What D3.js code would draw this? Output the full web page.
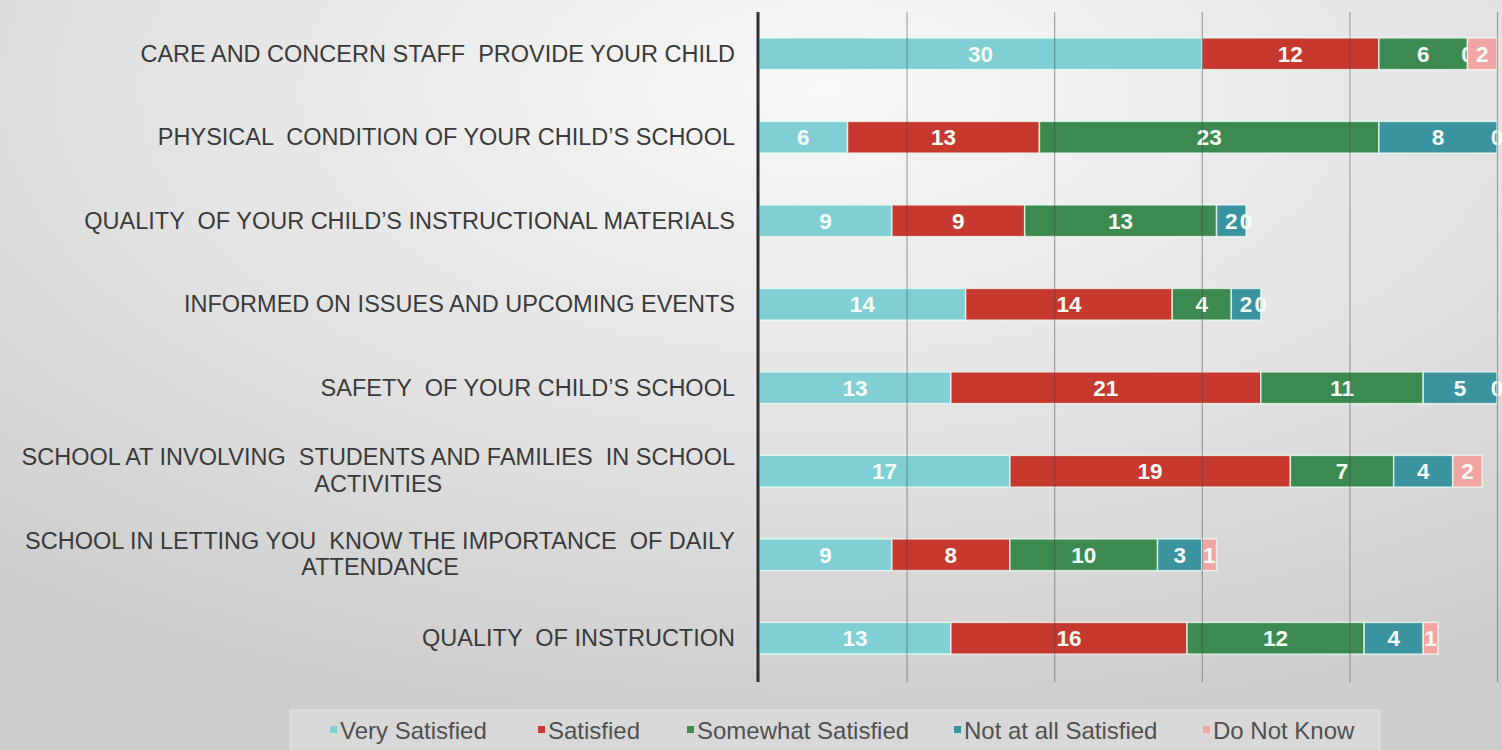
<!DOCTYPE html>
<html>
<head>
<meta charset="utf-8">
<script src="https://cdn.jsdelivr.net/npm/d3@7"></script>
<style>
  html, body { margin: 0; padding: 0; }
  svg { display: block; }
  text { font-family: "Liberation Sans", Arial, sans-serif; white-space: pre; }
</style>
</head>
<body>
<svg id="chart" width="1502" height="750"></svg>
<script>
// Survey items (top to bottom); multi-line labels split with "\n"
const categories = [
  "CARE AND CONCERN STAFF  PROVIDE YOUR CHILD",
  "PHYSICAL  CONDITION OF YOUR CHILD\u2019S SCHOOL",
  "QUALITY  OF YOUR CHILD\u2019S INSTRUCTIONAL MATERIALS",
  "INFORMED ON ISSUES AND UPCOMING EVENTS",
  "SAFETY  OF YOUR CHILD\u2019S SCHOOL",
  "SCHOOL AT INVOLVING  STUDENTS AND FAMILIES  IN SCHOOL\nACTIVITIES",
  "SCHOOL IN LETTING YOU  KNOW THE IMPORTANCE  OF DAILY\nATTENDANCE",
  "QUALITY  OF INSTRUCTION"
];

const seriesNames = ["Very Satisfied", "Satisfied", "Somewhat Satisfied", "Not at all Satisfied", "Do Not Know"];

// Response counts per item, one array per series
const verySatisfied      = [30, 6, 9, 14, 13, 17, 9, 13];
const satisfied          = [12, 13, 9, 14, 21, 19, 8, 16];
const somewhatSatisfied  = [6, 23, 13, 4, 11, 7, 10, 12];
const notAtAllSatisfied  = [0, 8, 2, 2, 5, 4, 3, 4];
const doNotKnow          = [2, 0, 0, 0, 0, 2, 1, 1];

const xTicks = [10, 20, 30, 40, 50];

const seriesColors = ["#7fcfd5", "#c7382e", "#3d8a50", "#3c93a0", "#f1a4a2"];

const svg = d3.select("#chart");
const W = 1502, H = 750;

// Soft radial background
const defs = svg.append("defs");
const grad = defs.append("radialGradient")
  .attr("id", "bg").attr("cx", "0.55").attr("cy", "0.12").attr("r", "0.85")
  .attr("gradientUnits", "objectBoundingBox");
grad.append("stop").attr("offset", "0").attr("stop-color", "#f8f8f8");
grad.append("stop").attr("offset", "0.55").attr("stop-color", "#e2e2e2");
grad.append("stop").attr("offset", "1").attr("stop-color", "#cdcdcd");
svg.append("rect").attr("width", W).attr("height", H).attr("fill", "url(#bg)");

// Scales
const x = d3.scaleLinear().domain([0, 50]).range([759, 1497]);
const y = d3.scaleBand().domain(categories).range([12, 680])
  .paddingInner(0.62).paddingOuter(0.31);

// Stack the series
const rows = categories.map((c, i) => ({
  cat: c,
  "Very Satisfied": verySatisfied[i],
  "Satisfied": satisfied[i],
  "Somewhat Satisfied": somewhatSatisfied[i],
  "Not at all Satisfied": notAtAllSatisfied[i],
  "Do Not Know": doNotKnow[i]
}));
const stacked = d3.stack().keys(seriesNames)(rows);

const color = d3.scaleOrdinal().domain(seriesNames).range(seriesColors);

// Bars
const layers = svg.append("g").selectAll("g")
  .data(stacked).join("g")
  .attr("fill", d => color(d.key));

layers.selectAll("rect")
  .data(d => d.map(p => ({ key: d.key, p })))
  .join("rect")
  .attr("x", d => x(d.p[0]))
  .attr("y", d => y(d.p.data.cat))
  .attr("width", d => x(d.p[1]) - x(d.p[0]))
  .attr("height", y.bandwidth())
  .attr("stroke", "rgba(240,255,245,0.75)")
  .attr("stroke-width", 1.5);

// Vertical gridlines, drawn over the bars
const grid = svg.append("g");
const gridAxis = d3.axisBottom(x).tickValues(xTicks).tickSize(670).tickFormat("");
grid.attr("transform", "translate(0,12)").call(gridAxis);
grid.select(".domain").remove();
grid.selectAll(".tick line").attr("stroke", "#4a4a4a").attr("stroke-opacity", 0.45).attr("stroke-width", 1.2);

// Category axis line
const yAxis = d3.axisLeft(y).tickSize(0).tickFormat("");
const yAxisG = svg.append("g").attr("transform", `translate(${x(0) - 1},0)`).call(yAxis);
yAxisG.select(".domain").attr("d", "M0,12V682").attr("stroke", "#303030").attr("stroke-width", 3);

// Value labels
layers.selectAll("text.val")
  .data(d => d.map(p => ({ key: d.key, p })))
  .join("text")
  .attr("class", "val")
  .attr("x", d => (x(d.p[0]) + x(d.p[1])) / 2)
  .attr("y", d => y(d.p.data.cat) + y.bandwidth() / 2)
  .attr("dy", "0.36em")
  .attr("text-anchor", "middle")
  .attr("font-size", 22.5)
  .attr("font-weight", "bold")
  .attr("fill", "#f4fcf6")
  .text(d => d.p[1] - d.p[0]);

// Category labels: right-aligned block, lines centred within it
const labelRight = 735;
const labels = svg.append("g");
categories.forEach(c => {
  const lines = c.split("\n");
  const cy = y(c) + y.bandwidth() / 2;
  const lh = 26.5;
  if (lines.length === 1) {
    labels.append("text")
      .attr("x", labelRight).attr("y", cy).attr("dy", "0.35em")
      .attr("text-anchor", "end").attr("font-size", 23.5).attr("fill", "#3a3a3a")
      .text(lines[0]);
  } else {
    const first = labels.append("text")
      .attr("x", labelRight).attr("y", cy - lh / 2 - 1).attr("dy", "0.35em")
      .attr("text-anchor", "end").attr("font-size", 23.5).attr("fill", "#3a3a3a")
      .text(lines[0]);
    const w = first.node().getComputedTextLength();
    labels.append("text")
      .attr("x", labelRight - w / 2).attr("y", cy + lh / 2 - 1).attr("dy", "0.35em")
      .attr("text-anchor", "middle").attr("font-size", 23.5).attr("fill", "#3a3a3a")
      .text(lines[1]);
  }
});

// Legend
const legend = svg.append("g");
legend.append("rect")
  .attr("x", 290).attr("y", 710).attr("width", 1090).attr("height", 45)
  .attr("fill", "#ffffff").attr("fill-opacity", 0.22)
  .attr("stroke", "#ffffff").attr("stroke-opacity", 0.35);
const legendX = [330, 538, 687, 954, 1203];
seriesNames.forEach((name, i) => {
  const g = legend.append("g").attr("transform", `translate(${legendX[i]},0)`);
  g.append("rect").attr("x", 0).attr("y", 726).attr("width", 7).attr("height", 7)
    .attr("fill", seriesColors[i]);
  g.append("text").attr("x", 10).attr("y", 730).attr("dy", "0.36em")
    .attr("font-size", 24).attr("fill", "#505050").text(name);
});
</script>
</body>
</html>
